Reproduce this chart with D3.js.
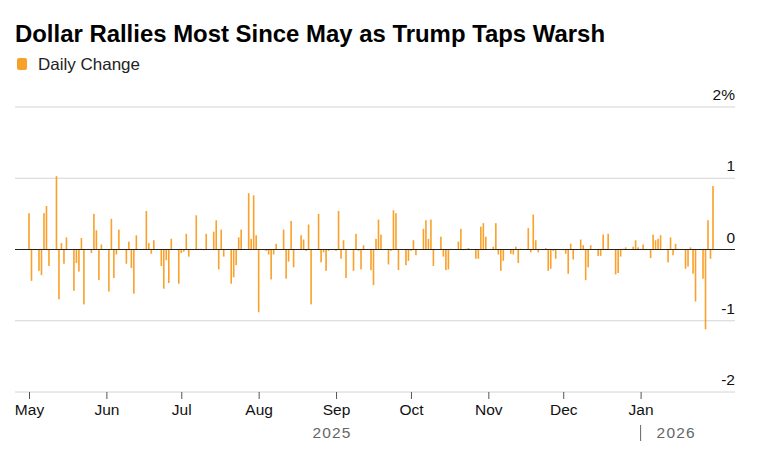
<!DOCTYPE html>
<html>
<head>
<meta charset="utf-8">
<script src="https://cdn.jsdelivr.net/npm/d3@7"></script>
<style>
  body { margin: 0; background: #fff; }
  svg { font-family: "Liberation Sans", Arial, sans-serif; }
</style>
</head>
<body>
<div id="chart"></div>
<script>
// first trading day, then daily % change for every weekday after it
const startDay = "2025-05-01";
const endDay = "2026-01-30";
const dailyChange = [
  0.51, -0.44,
  -0.30, -0.36, 0.51, 0.61, -0.23,
  1.03, -0.70, 0.09, -0.20, 0.17,
  -0.58, -0.19, -0.31, 0.16, -0.77,
  -0.05, 0.50, 0.27, -0.43, 0.07,
  -0.59, 0.43, -0.40, -0.07, 0.28,
  -0.20, 0.11, -0.26, -0.62, 0.20,
  0.01, 0.54, 0.09, -0.06, 0.13,
  -0.23, -0.55, -0.15, -0.47, 0.15,
  -0.48, -0.05, -0.03, 0.22, -0.10,
  0.48, 0.01, 0.01, -0.01, 0.22,
  0.25, 0.41, -0.28, 0.28, -0.10,
  -0.48, -0.39, -0.22, 0.17, 0.28,
  0.79, 0.15, 0.76, 0.20, -0.88,
  -0.02, -0.07, -0.42, -0.07, 0.08,
  0.28, -0.41, -0.17, 0.40, -0.25,
  0.20, 0.14, -0.02, 0.35, -0.77,
  0.50, -0.18, -0.04, -0.30, -0.02,
  -0.02, 0.54, -0.13, 0.13, -0.40,
  -0.30, 0.22, -0.02, -0.28, 0.06,
  -0.29, -0.50, 0.15, 0.42, 0.21,
  -0.21, -0.02, 0.55, 0.51, -0.29,
  -0.22, -0.16, -0.02, 0.13, -0.08,
  0.29, 0.41, 0.15, 0.42, -0.23,
  0.18, -0.10, -0.29, -0.28, 0.01,
  0.11, 0.29, -0.01, 0.01, 0.02,
  -0.13, -0.13, 0.32, 0.37, 0.18,
  0.04, 0.37, -0.07, -0.30, -0.16,
  -0.06, -0.07, 0.04, -0.19, 0.01,
  0.30, -0.04, 0.49, 0.13, -0.04,
  0.02, -0.30, -0.27, -0.02, -0.13,
  -0.01, -0.06, -0.34, 0.08, -0.14,
  0.14, 0.06, -0.43, -0.25, 0.06,
  -0.09, -0.09, 0.21, 0.01, 0.22,
  -0.35, -0.33, -0.10, 0.01, 0.03,
  0.04, 0.13, 0.03, 0.01, 0.07,
  -0.12, 0.21, 0.13, 0.15, 0.20,
  -0.18, 0.17, -0.08, 0.08, 0.01,
  -0.27, -0.24, 0.03, -0.34, -0.73,
  -0.41, -1.12, 0.41, -0.13, 0.89
];
const yTicks = [2, 1, 0, -1, -2];
const monthTicks = ["2025-05-01", "2025-06-01", "2025-07-01", "2025-08-01", "2025-09-01",
  "2025-10-01", "2025-11-01", "2025-12-01", "2026-01-01"];
const yearLabels = [{ year: "2025", at: "2025-09-01" }, { year: "2026", at: "2026-01-01" }];

const width = 761, height = 457;
const parse = d3.timeParse("%Y-%m-%d");

let days = d3.timeDay.range(parse(startDay), d3.timeDay.offset(parse(endDay), 1))
  .filter(d => d.getDay() > 0 && d.getDay() < 6);
let data = days.map((d, i) => ({ date: d, value: dailyChange[i] }))
  .filter(d => d.value !== undefined);

let svg = d3.select("#chart").append("svg")
  .attr("width", width)
  .attr("height", height);

let x = d3.scaleTime()
  .domain([parse(startDay), parse(endDay)])
  .range([29, 713]);
let y = d3.scaleLinear()
  .domain([-2, 2])
  .range([392, 107]);

// title + legend
svg.append("text")
  .attr("x", 15).attr("y", 42)
  .attr("textLength", 590).attr("lengthAdjust", "spacingAndGlyphs")
  .style("font-size", "24px").style("font-weight", "bold").style("fill", "#000")
  .text("Dollar Rallies Most Since May as Trump Taps Warsh");
svg.append("rect")
  .attr("x", 17).attr("y", 58).attr("width", 10).attr("height", 12).attr("rx", 2)
  .attr("fill", "#f7a12c");
svg.append("text")
  .attr("x", 38).attr("y", 70)
  .attr("textLength", 102).attr("lengthAdjust", "spacingAndGlyphs")
  .style("font-size", "16.5px").style("fill", "#222")
  .text("Daily Change");

// grid
svg.selectAll(".grid")
  .data(yTicks.filter(d => d !== 0))
  .enter().append("line")
  .attr("x1", 15).attr("x2", 735)
  .attr("y1", d => y(d)).attr("y2", d => y(d))
  .attr("stroke", "#d4d4d4").attr("stroke-width", 1);

svg.selectAll(".ylab")
  .data(yTicks)
  .enter().append("text")
  .attr("x", 735).attr("y", d => y(d) - 7)
  .attr("text-anchor", "end")
  .style("font-size", "15.5px").style("fill", "#111")
  .text(d => d === 2 ? "2%" : d);

// bars
svg.selectAll(".bar")
  .data(data)
  .enter().append("rect")
  .attr("x", d => x(d.date) - 0.8)
  .attr("width", 1.6)
  .attr("y", d => y(Math.max(0, d.value)))
  .attr("height", d => Math.abs(y(d.value) - y(0)))
  .attr("fill", "#f9a12a");

svg.append("line")
  .attr("x1", 15).attr("x2", 735)
  .attr("y1", y(0)).attr("y2", y(0))
  .attr("stroke", "#222").attr("stroke-width", 1.2);

// x axis
let xAxis = d3.axisBottom(x)
  .tickValues(monthTicks.map(parse))
  .tickFormat(d3.timeFormat("%b"))
  .tickSize(7)
  .tickSizeOuter(0)
  .tickPadding(5);
let gx = svg.append("g")
  .attr("transform", "translate(0," + y(-2) + ")")
  .call(xAxis);
gx.select(".domain").remove();
gx.selectAll("line").attr("stroke", "#555");
gx.selectAll("text")
  .style("font-size", "15.5px").style("fill", "#111")
  .style("font-family", "Liberation Sans, Arial, sans-serif");

svg.selectAll(".year")
  .data(yearLabels)
  .enter().append("text")
  .attr("x", d => d.year === "2025" ? x(parse(d.at)) - 4 : x(parse(d.at)) + 16)
  .attr("y", 438)
  .attr("text-anchor", d => d.year === "2025" ? "middle" : "start")
  .style("font-size", "15.5px").style("fill", "#666").style("letter-spacing", "1.2px")
  .text(d => d.year);

svg.append("line")
  .attr("x1", x(parse("2026-01-01"))).attr("x2", x(parse("2026-01-01")))
  .attr("y1", 425).attr("y2", 441)
  .attr("stroke", "#666").attr("stroke-width", 1);
</script>
</body>
</html>
